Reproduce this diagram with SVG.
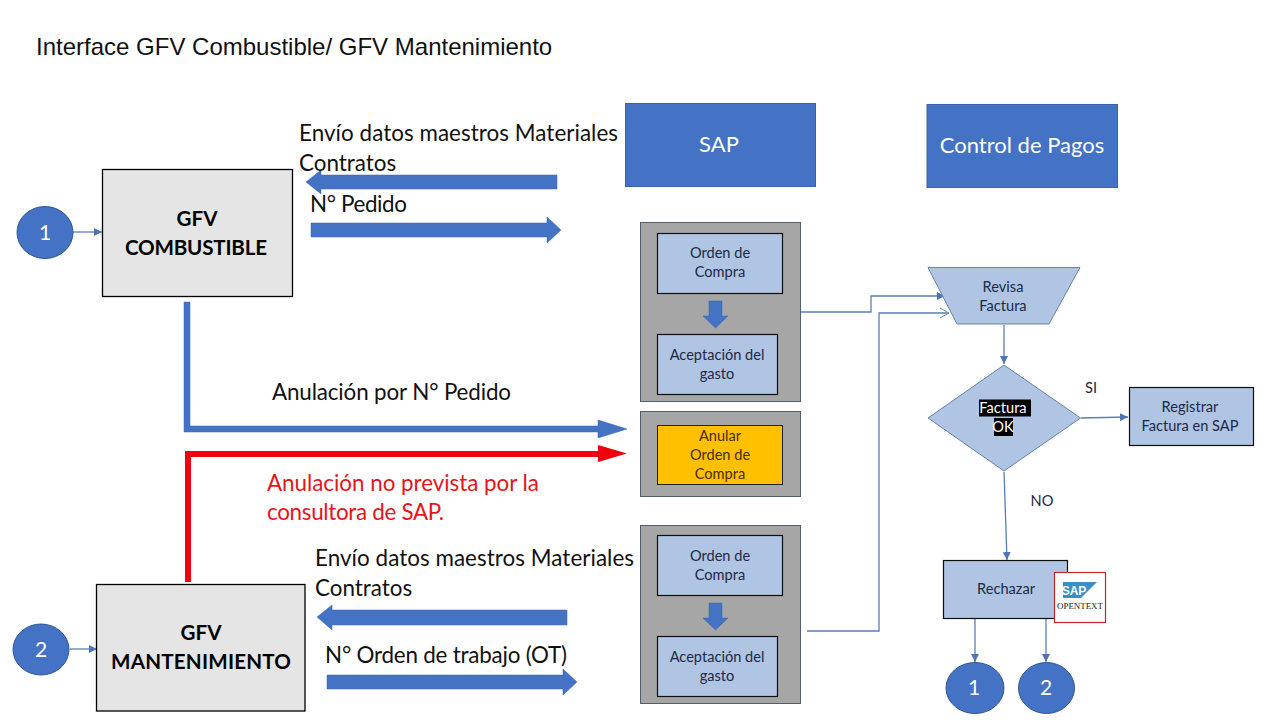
<svg xmlns="http://www.w3.org/2000/svg" width="1280" height="720" viewBox="0 0 1280 720">
<defs>
<marker id="ah" markerWidth="9" markerHeight="8" refX="8" refY="4" orient="auto" markerUnits="userSpaceOnUse"><path d="M0,0 L8,4 L0,8 Z" fill="#4f74b5"/></marker>
<marker id="op" markerWidth="12" markerHeight="12" refX="10" refY="6" orient="auto" markerUnits="userSpaceOnUse"><path d="M1,1 L10,6 L1,11" fill="none" stroke="#6f8fc0" stroke-width="1"/></marker>
</defs>
<style>
text{font-family:"Lato","Liberation Sans",sans-serif;text-anchor:middle}
.lab{font-size:22.4px;fill:#111;text-anchor:start}
.red{font-size:22.4px;fill:#e8141c;text-anchor:start}
.sm{font-size:14.6px;fill:#1c2a44}
.hd{font-size:22px;fill:#fff}
.bd{font-size:20.6px;font-weight:700;fill:#000}
.circ{fill:#4472c4;stroke:#2f5597;stroke-width:1}
.ct{font-size:21px;fill:#fff}
.lb{fill:#b0c4e4;stroke:#0d0d0d;stroke-width:1.2}
.gr{fill:#a6a6a6;stroke:#4f5f70;stroke-width:1}
.blk{fill:#e5e5e5;stroke:#000;stroke-width:1.3}
.fl{fill:#b0c4e4;stroke:#6a82a8;stroke-width:1}
.c{fill:none;stroke:#5b7db8;stroke-width:1.3}
.ba{fill:#4472c4;stroke:#3a65ad;stroke-width:.5}
</style>
<text x="36" y="55" style="font-family:'Liberation Sans',sans-serif;font-size:24px;text-anchor:start;fill:#111">Interface GFV Combustible/ GFV Mantenimiento</text>
<g id="connectors">
<path class="c" d="M801 312H871V296H945" marker-end="url(#ah)"/>
<path class="c" d="M807 631H879V313H949" marker-end="url(#op)"/>
<path class="c" d="M1004 325V364" marker-end="url(#ah)"/>
<path class="c" d="M1081 418L1128 417" marker-end="url(#ah)"/>
<path class="c" d="M1004 472L1007 560" marker-end="url(#ah)"/>
<path class="c" d="M975 619V662" marker-end="url(#ah)"/>
<path class="c" d="M1046 619V662" marker-end="url(#ah)"/>
<path class="c" d="M70 232H102" marker-end="url(#ah)"/>
<path class="c" d="M70 649H97" marker-end="url(#ah)"/>
<path class="ba" d="M557 175V189H321V194L306 182L321 170V175Z"/>
<path class="ba" d="M311 223H547V217L561 230L547 243V237H311Z"/>
<path class="ba" d="M567 610V625H332V630L317 617L332 605V610Z"/>
<path class="ba" d="M327 675H563V669L577 682L563 695V689H327Z"/>
<path class="ba" d="M184 302H190V426H598V420L627 429L598 438V432H184Z"/>
<path d="M185 582V451H598V445L627 453.500L598 462V457H191V582Z" fill="#f0000f"/>
</g>
<g id="sap"><rect x="625.500" y="103.500" width="190" height="83" fill="#4472c4" stroke="#3a63a8"/><text class="hd" x="719" y="152">SAP</text></g>
<g id="control-pagos"><rect x="927" y="104.500" width="190.500" height="83" fill="#4472c4" stroke="#3a63a8"/><text class="hd" x="1022" y="153">Control de Pagos</text></g>
<g id="gfv-combustible"><rect class="blk" x="102.500" y="169.500" width="190" height="127"/><text class="bd" x="197" y="226">GFV</text><text class="bd" x="196" y="255" textLength="142">COMBUSTIBLE</text></g>
<g id="gfv-mantenimiento"><rect class="blk" x="96.500" y="584.500" width="208.500" height="126.500"/><text class="bd" x="201" y="640">GFV</text><text class="bd" x="201" y="669" textLength="180">MANTENIMIENTO</text></g>
<g id="c1"><ellipse class="circ" cx="45" cy="232.500" rx="28" ry="26"/><text class="ct" x="45" y="240">1</text></g>
<g id="c2"><ellipse class="circ" cx="41" cy="649.500" rx="28" ry="25.500"/><text class="ct" x="41" y="657">2</text></g>
<g id="labels">
<text class="lab" x="299" y="141" textLength="319">Envío datos maestros Materiales</text>
<text class="lab" x="299" y="170.500">Contratos</text>
<text class="lab" x="310" y="212" textLength="97">N° Pedido</text>
<text class="lab" x="272" y="400" textLength="239">Anulación por N° Pedido</text>
<text class="red" x="267" y="490.500" textLength="272">Anulación no prevista por la</text>
<text class="red" x="267" y="519.500" textLength="177">consultora de SAP.</text>
<text class="lab" x="315" y="566" textLength="319">Envío datos maestros Materiales</text>
<text class="lab" x="315" y="595.500">Contratos</text>
<text class="lab" x="325" y="663" textLength="242">N° Orden de trabajo (OT)</text>
<text class="sm" x="1091" y="393">SI</text>
<text class="sm" x="1042" y="506">NO</text>
</g>
<g id="grupo-1"><rect class="gr" x="640.500" y="222.500" width="160" height="179"/>
<rect class="lb" x="657.500" y="233.500" width="125" height="60"/><text class="sm" x="720" y="258">Orden de</text><text class="sm" x="720" y="277">Compra</text>
<path class="ba" d="M709 301H722V316H728L715.500 328L703 316H709Z"/>
<rect class="lb" x="657.500" y="334.500" width="120" height="60"/><text class="sm" x="717" y="360">Aceptación del</text><text class="sm" x="717" y="379">gasto</text></g>
<g id="grupo-anular"><rect class="gr" x="640.500" y="411.500" width="160" height="85"/>
<rect x="657.500" y="425.500" width="125" height="59" fill="#ffc000" stroke="#222" stroke-width="1"/><text class="sm" x="720" y="441" style="fill:#4a2a00">Anular</text><text class="sm" x="720" y="460" style="fill:#4a2a00">Orden de</text><text class="sm" x="720" y="479" style="fill:#4a2a00">Compra</text></g>
<g id="grupo-2"><rect class="gr" x="640.500" y="525.500" width="160" height="178"/>
<rect class="lb" x="657.500" y="535.500" width="125" height="60"/><text class="sm" x="720" y="561">Orden de</text><text class="sm" x="720" y="580">Compra</text>
<path class="ba" d="M709 603H722V618H728L715.500 630L703 618H709Z"/>
<rect class="lb" x="657.500" y="636.500" width="120" height="60"/><text class="sm" x="717" y="662">Aceptación del</text><text class="sm" x="717" y="681">gasto</text></g>
<g id="revisa"><path class="fl" d="M928 267.500H1080L1049 324H957Z"/><text class="sm" x="1003" y="292">Revisa</text><text class="sm" x="1003" y="311">Factura</text></g>
<g id="factura-ok"><path class="fl" d="M1004 365L1080.500 418L1004 471L928 418Z"/>
<rect x="979" y="399.500" width="52" height="17" fill="#000"/><rect x="994" y="418" width="19" height="18" fill="#000"/>
<text class="sm" x="1003" y="413" style="fill:#fff">Factura</text><text class="sm" x="1003" y="432" style="fill:#fff">OK</text></g>
<g id="registrar"><rect class="lb" x="1129.500" y="387.500" width="124" height="58"/><text class="sm" x="1190" y="412">Registrar</text><text class="sm" x="1190" y="431">Factura en SAP</text></g>
<g id="rechazar"><rect class="lb" x="943.500" y="560.500" width="124" height="58"/><text class="sm" x="1006" y="594">Rechazar</text></g>
<g id="opentext"><rect x="1054.500" y="572.500" width="51" height="50" fill="#fff" stroke="#c0262d" stroke-width="1.200"/>
<path d="M1063 582H1097L1081 598H1063Z" fill="#3a8fc4"/>
<text x="1074" y="595" style="font-family:'Liberation Sans',sans-serif;font-size:12px;font-weight:700;fill:#fff">SAP</text>
<text x="1080" y="609" textLength="46" lengthAdjust="spacingAndGlyphs" style="font-family:'Liberation Serif',serif;font-size:8.500px;fill:#222">OPENTEXT</text></g>
<g id="c1b"><ellipse class="circ" cx="975" cy="688" rx="29" ry="25.500"/><text class="ct" x="974" y="695">1</text></g>
<g id="c2b"><ellipse class="circ" cx="1046.500" cy="688" rx="28" ry="25.500"/><text class="ct" x="1046" y="695">2</text></g>
</svg>
